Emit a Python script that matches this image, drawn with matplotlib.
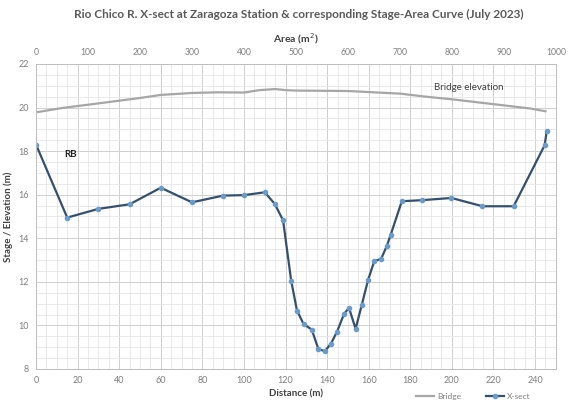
import matplotlib
matplotlib.use("Agg")
import matplotlib.pyplot as plt
from matplotlib.ticker import MultipleLocator

plt.rcParams['font.family'] = ['Lato', 'DejaVu Sans']

# cross-section survey: distance (m) vs elevation (m)
dist = [0, 15, 30, 45, 60, 75, 90, 100, 110, 114.7, 118.8, 122.7, 125.5, 128.7,
        132.6, 135.8, 138.9, 141.8, 144.8, 148.1, 150.5, 153.7, 156.7, 159.7,
        162.7, 165.9, 168.7, 170.6, 175.9, 185.7, 199.8, 214.7, 229.7, 244.6, 245.6]
elev = [18.30, 14.95, 15.35, 15.56, 16.32, 15.65, 15.96, 15.98, 16.11, 15.59,
        14.83, 12.06, 10.68, 10.06, 9.81, 8.91, 8.82, 9.16, 9.72, 10.52, 10.81,
        9.84, 10.96, 12.09, 12.96, 13.04, 13.65, 14.17, 15.70, 15.75, 15.85,
        15.47, 15.47, 18.27, 18.91]

# bridge deck elevation against area axis (m2)
bridge_area = [0, 50, 100, 200, 240, 300, 350, 400, 430, 460, 480, 500, 550,
               600, 650, 700, 750, 800, 850, 900, 950, 980]
bridge_elev = [19.78, 19.98, 20.13, 20.44, 20.58, 20.67, 20.70, 20.69, 20.80,
               20.85, 20.80, 20.78, 20.77, 20.76, 20.70, 20.64, 20.50, 20.38,
               20.24, 20.10, 19.96, 19.83]

dark_grid = [60, 120, 140, 180, 200]

fig = plt.figure(figsize=(5.7, 4.03), dpi=100)
ax = fig.add_axes([0.0632, 0.0844, 0.912, 0.7568])

ax.set_xlim(0, 250)
ax.set_ylim(8, 22)
ax.xaxis.set_major_locator(MultipleLocator(20))
ax.xaxis.set_minor_locator(MultipleLocator(5))
ax.yaxis.set_major_locator(MultipleLocator(2))
ax.yaxis.set_minor_locator(MultipleLocator(0.5))
ax.grid(which='minor', color='#E6E6E6', lw=0.6)
ax.grid(which='major', color='#D0D0D0', lw=0.7)
for g in dark_grid:
    ax.axvline(g, color='#A8A8A8', lw=0.7, zorder=0.5)
ax.set_axisbelow(True)

ax.plot(dist, elev, '-', color='#34506E', lw=1.6, marker='o', ms=3,
        mfc='#6A9BCB', mec='#6A9BCB', zorder=3, label='X-sect')

ax2 = ax.twiny()
ax2.set_xlim(0, 1000)
ax2.xaxis.set_major_locator(MultipleLocator(100))
ax2.plot(bridge_area, bridge_elev, '-', color='#A6A6A6', lw=1.6, label='Bridge')

for a in (ax, ax2):
    a.tick_params(which='both', length=0, labelsize=6.5, labelcolor='#7F7F7F', pad=5)
    for s in a.spines.values():
        s.set_color('#BFBFBF')
        s.set_linewidth(0.7)
ax2.tick_params(labelsize=6.2)

ax.text(13.5, 17.75, 'RB', fontsize=7, fontweight='bold', color='#222222')
ax.text(191.5, 20.8, 'Bridge elevation', fontsize=7, color='#404040')

ax.set_xlabel('Distance (m)', fontsize=7, fontweight='bold', color='#404040', labelpad=3)
ax.set_ylabel('Stage / Elevation (m)', fontsize=7, fontweight='bold', color='#404040', labelpad=4)
ax2.set_xlabel('Area (m$^2$)', fontsize=7.5, fontweight='bold', color='#404040', labelpad=4)

fig.text(0.525, 0.965, 'Rio Chico R. X-sect at Zaragoza Station & corresponding Stage-Area Curve (July 2023)',
         ha='center', va='center', fontsize=8.5, fontweight='bold', color='#595959')

h1, l1 = ax2.get_legend_handles_labels()
h2, l2 = ax.get_legend_handles_labels()
fig.legend(h1 + h2, l1 + l2, loc='center', bbox_to_anchor=(0.83, 0.017), ncol=2,
           frameon=False, fontsize=6, labelcolor='#7F7F7F', handlelength=2.2,
           columnspacing=3, handletextpad=0.3)

fig.savefig('out.png', dpi=100)
